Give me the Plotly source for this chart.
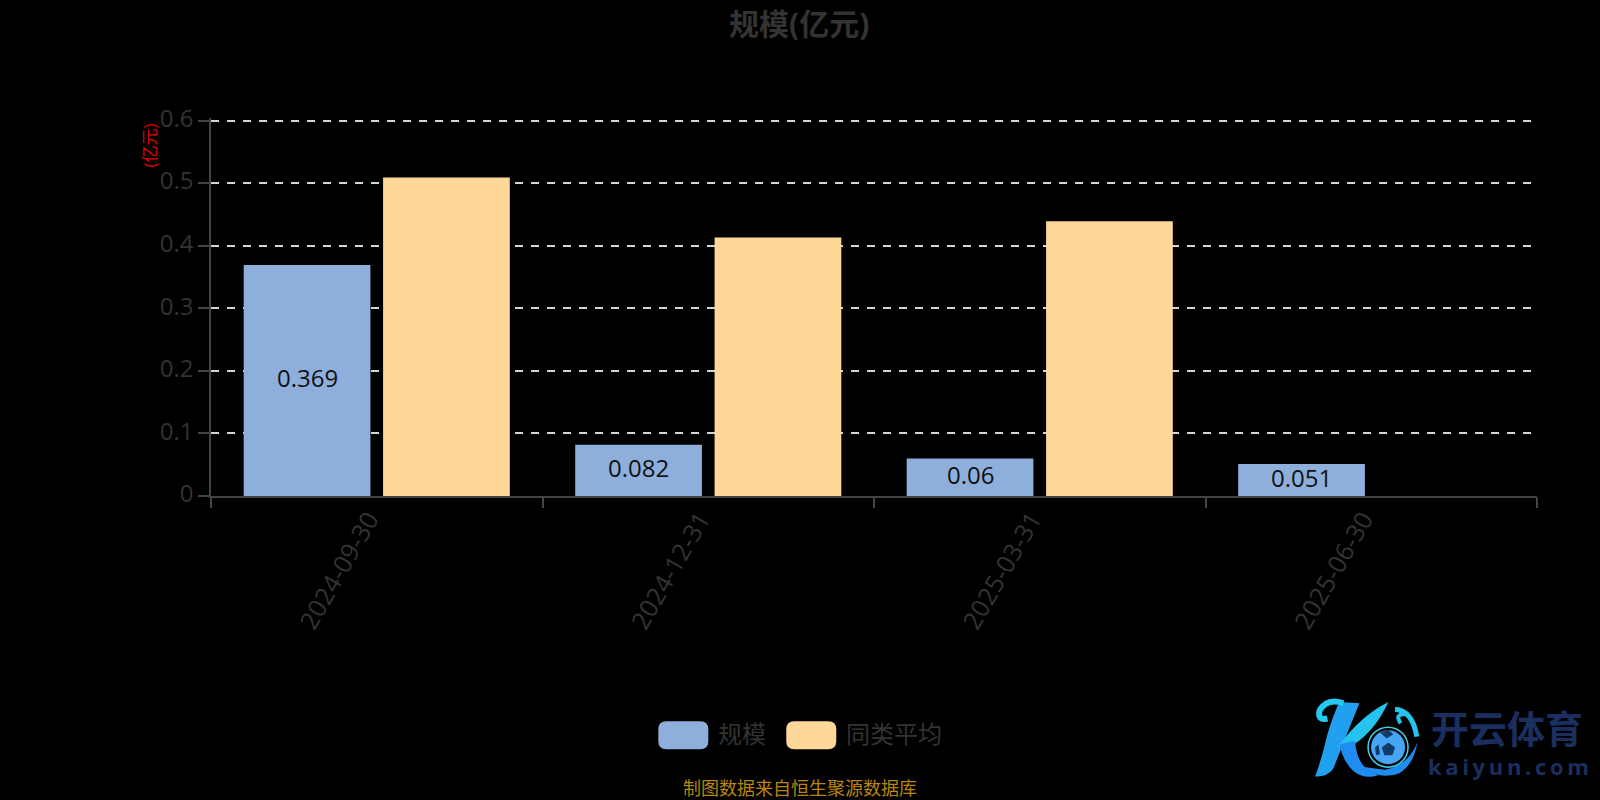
import plotly.graph_objects as go

categories = ["2024-09-30", "2024-12-31", "2025-03-31", "2025-06-30"]
scale_values = [0.369, 0.082, 0.06, 0.051]
average_values = [0.509, 0.413, 0.439, None]
scale_name = "规模"
average_name = "同类平均"
title_text = "规模(亿元)"
unit_text = "(亿元)"
footer_text = "制图数据来自恒生聚源数据库"
logo_cn = "开云体育"
logo_en = "k\u2009a\u2009i\u2009y\u2009u\u2009n\u2009.\u2009c\u2009o\u2009m"
y_ticks = [0, 0.1, 0.2, 0.3, 0.4, 0.5, 0.6]
y_labels = ["0", "0.1", "0.2", "0.3", "0.4", "0.5", "0.6"]

FONT = "'Open Sans','Noto Sans','Noto Sans CJK SC',sans-serif"
BLUE = "#8eafdc"
ORANGE = "#ffd899"
GREY = "#333333"
AXIS = "#444444"
W, H = 1600, 800
L, R, T, B = 210.5, 1537, 118, 496.5
Y_TOP = 0.604
SLOT = (R - L) / 4 * (1 - 0.159) / 2

fig = go.Figure()
fig.add_bar(name=scale_name, x=categories, y=scale_values, marker_color=BLUE, marker_line_width=0)
fig.add_bar(name=average_name, x=categories, y=average_values, marker_color=ORANGE, marker_line_width=0)


def px_x(x):
    return (x - L) / (R - L)


def px_y(y):
    return (B - y) / (B - T)


def note(x, y, text, size, color, bold=False, angle=0):
    fig.add_annotation(xref="paper", yref="paper", x=px_x(x), y=px_y(y), text=f"<b>{text}</b>" if bold else text,
                       showarrow=False, textangle=angle, xanchor="center", yanchor="middle",
                       font=dict(size=size, color=color, family=FONT))


for cat, val in zip(categories, scale_values):
    fig.add_annotation(x=cat, y=val / 2, text=str(val), showarrow=False, xshift=-SLOT / 2, yshift=3,
                       font=dict(size=24, color="#111111", family=FONT))

note(799, 23, title_text, 30, GREY, bold=True)
note(149, 146, unit_text, 17, "#e00000", angle=-90)
note(741.5, 734, scale_name, 24, GREY)
note(894, 734, average_name, 24, GREY)
note(800, 789, footer_text, 18, "#b8860b")
note(1507, 729, logo_cn, 38, "#1a2f5f", bold=True)
note(1508, 767, logo_en, 22, "#1a2f5f", bold=True)

for (x0, x1, col) in [(658, 708, BLUE), (786, 836, ORANGE)]:
    fx0, fx1, fy0, fy1 = px_x(x0), px_x(x1), px_y(750), px_y(722)
    rx, ry = 8 / (R - L), 8 / (B - T)
    fig.add_shape(type="path", xref="paper", yref="paper", fillcolor=col, line_width=0,
                  path=(f"M{fx0+rx},{fy0} L{fx1-rx},{fy0} Q{fx1},{fy0} {fx1},{fy0+ry} L{fx1},{fy1-ry} "
                        f"Q{fx1},{fy1} {fx1-rx},{fy1} L{fx0+rx},{fy1} Q{fx0},{fy1} {fx0},{fy1-ry} "
                        f"L{fx0},{fy0+ry} Q{fx0},{fy0} {fx0+rx},{fy0} Z"))


# watermark logo, outlined in crop coordinates of the reference
def z(zx, zy):
    return f"{px_x(1280 + zx / 3):.5f},{px_y(680 + zy / 3):.5f}"


def logo_shape(cmds, fill=None, line=None, width=0):
    parts = []
    for c in cmds:
        parts.append(c[0] + " ".join(z(*p) for p in c[1:]))
    fig.add_shape(type="path", xref="paper", yref="paper", path=" ".join(parts) + (" Z" if fill else ""),
                  fillcolor=fill if fill else "rgba(0,0,0,0)", line=dict(color=line or fill, width=width))


logo_shape([("M", (178, 68)), ("L", (238, 72)), ("Q", (190, 190), (160, 268)), ("Q", (140, 295), (105, 292)),
            ("Q", (125, 240), (142, 165)), ("Q", (158, 110), (178, 68))], fill="#20a0ee")
logo_shape([("M", (190, 72)), ("Q", (140, 55), (118, 95)), ("Q", (112, 125), (142, 118))], line="#25c8ee", width=6)
logo_shape([("M", (172, 205)), ("Q", (240, 110), (325, 68)), ("Q", (285, 155), (218, 198))], fill="#25c4ee")
logo_shape([("M", (178, 195)), ("L", (225, 185)), ("Q", (230, 270), (295, 288)), ("Q", (255, 302), (222, 278)),
            ("Q", (190, 250), (178, 195))], fill="#1e8cf0")
logo_shape([("M", (240, 262)), ("Q", (300, 305), (358, 282)), ("Q", (400, 258), (412, 190)),
            ("Q", (385, 258), (315, 272))], fill="#1e8cf0")
logo_shape([("M", (345, 90)), ("Q", (398, 95), (410, 172))], line="#25c4ee", width=5)
logo_shape([("M", (362, 132)), ("Q", (342, 105), (375, 104))], line="#25c4ee", width=4)
fig.add_shape(type="circle", xref="paper", yref="paper", x0=px_x(1368), x1=px_x(1408), y0=px_y(768), y1=px_y(728),
              fillcolor="rgba(0,0,0,0)", line=dict(color="#3fd0e8", width=1.5))
fig.add_shape(type="circle", xref="paper", yref="paper", x0=px_x(1371), x1=px_x(1405), y0=px_y(765), y1=px_y(731),
              fillcolor="#44a6f4", line_width=0)
logo_shape([("M", (325, 190)), ("L", (345, 205)), ("L", (337, 228)), ("L", (313, 228)), ("L", (305, 205))], fill="#123a6a")
logo_shape([("M", (300, 160)), ("L", (325, 152)), ("L", (340, 165)), ("L", (320, 178))], fill="#123a6a")
logo_shape([("M", (285, 205)), ("L", (295, 195)), ("L", (300, 225)), ("L", (288, 228))], fill="#123a6a")

fig.update_layout(
    width=W, height=H, paper_bgcolor="#000000", plot_bgcolor="#000000",
    margin=dict(l=L, r=W - R, t=T, b=H - B, pad=0),
    barmode="group", bargap=0.159, bargroupgap=0.091, showlegend=False,
    font=dict(family=FONT, size=24, color=GREY),
    xaxis=dict(type="category", tickson="boundaries", ticks="outside", ticklen=10, tickcolor=AXIS, tickwidth=1.5,
               showline=True, linecolor=AXIS, linewidth=1.5, showgrid=False, tickangle=-60, ticklabelshift=-8,
               ticklabelstandoff=-3, tickfont=dict(size=25, color=GREY, family=FONT), automargin=False),
    yaxis=dict(range=[0, Y_TOP], tickvals=y_ticks, ticktext=y_labels,
               ticks="outside", ticklen=11, tickcolor=AXIS, tickwidth=1.5, ticklabelshift=-2,
               showline=True, linecolor=AXIS, linewidth=1.5, zeroline=False,
               gridcolor="#d4d4d4", gridwidth=2, griddash="8px,8px",
               tickfont=dict(size=24, color=GREY, family=FONT), automargin=False),
)
fig.write_html("out.html", config={"displayModeBar": False},
               post_script="document.body.style.margin='0';document.body.style.background='#000';")
